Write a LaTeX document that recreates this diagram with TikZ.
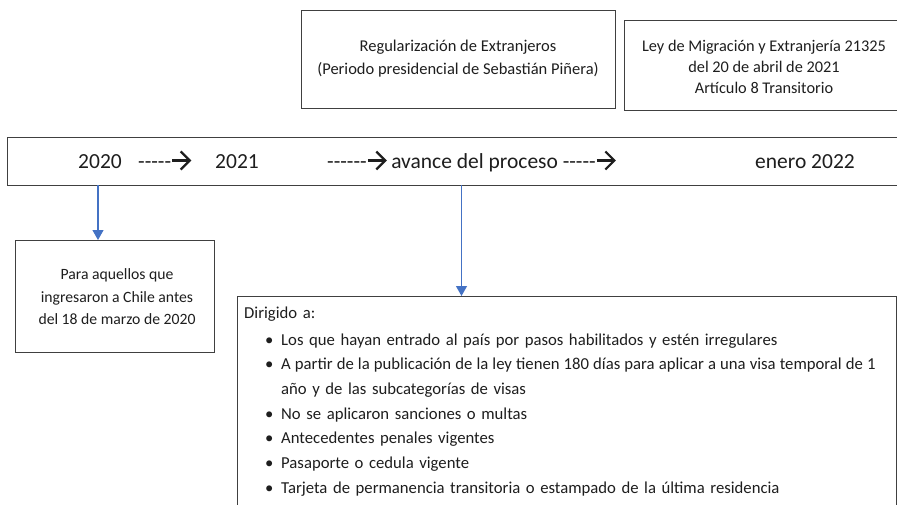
\documentclass[tikz,border=0pt]{standalone}
\usepackage{fontspec}
\setmainfont{Carlito}
\usetikzlibrary{arrows.meta}
\definecolor{boxline}{HTML}{404040}
\definecolor{txt}{HTML}{1E1E1E}
\definecolor{arrblue}{HTML}{4472C4}
\newcommand{\rarr}{\tikz[baseline=0pt, x=1pt, y=1pt, line width=2.2pt, line cap=butt, line join=miter]{\draw (0,7.5) -- (17,7.5); \draw (8.5,16.5) -- (17.5,7.5) -- (8.5,-1.5);}}
\newcommand{\dshfive}{-{}-{}-{}-{}-}
\newcommand{\dshsix}{-{}-{}-{}-{}-{}-}
\newcommand{\lbul}{\par\hangindent=37pt\hangafter=1\noindent\hbox to 37pt{\hspace{21pt}\textbullet\hfill}}
\begin{document}
\begin{tikzpicture}[x=1pt,y=-1pt,
  boxstyle/.style={draw=boxline, line width=1.1pt, inner sep=0pt, anchor=north west},
  txtstyle/.style={text=txt, align=center, inner sep=0pt},
  tlstyle/.style={text=txt, inner sep=0pt, anchor=base west, font=\fontsize{21.5}{21.5}\selectfont},
  conn/.style={draw=arrblue, line width=1.1pt, -{Triangle[width=11pt,length=10pt]}}]
\clip (0,0) rectangle (897,504);
\fill[white] (0,0) rectangle (897,504);

% top boxes
\node[boxstyle, minimum width=314pt, minimum height=98pt] (regbox) at (301,10) {};
\node[txtstyle, font=\fontsize{16.5}{23}\selectfont] (regtxt) at (458,59) {Regularización de Extranjeros\\(Periodo presidencial de Sebastián Piñera)};

\node[boxstyle, minimum width=300pt, minimum height=90pt] (leybox) at (624,20) {};
\node[txtstyle, font=\fontsize{16.3}{21}\selectfont] (leytxt) at (764,67) {Ley de Migración y Extranjería 21325\\del 20 de abril de 2021\\Artículo 8 Transitorio};

% timeline
\node[boxstyle, minimum width=910pt, minimum height=48pt] (tline) at (7,137) {};
\node[tlstyle] (y2020) at (78,168) {2020};
\node[tlstyle] (a1) at (138,168) {\dshfive\rarr};
\node[tlstyle] (y2021) at (215,168) {2021};
\node[tlstyle] (avance) at (327,168) {\dshsix\rarr{} avance del proceso \dshfive\rarr};
\node[tlstyle] (y2022) at (755,168) {enero 2022};

% lower boxes
\node[boxstyle, minimum width=199pt, minimum height=112pt] (chbox) at (15,240) {};
\node[txtstyle, font=\fontsize{15.7}{22.5}\selectfont] (chtxt) at (117,297) {Para aquellos que\\ingresaron a Chile antes\\del 18 de marzo de 2020};

\node[boxstyle, minimum width=659pt, minimum height=260pt] (dirbox) at (237,296) {};
\node[anchor=north west, inner sep=0pt, text=txt, text width=720pt, align=left,
      font=\fontsize{16.7}{24.7}\selectfont] (dirtxt) at (244,306.5) {%
\raggedright\noindent Dirigido a:\par\vspace{2pt}%
\lbul Los que hayan entrado al país por pasos habilitados y estén irregulares%
\lbul {\spaceskip=4.1pt plus 0.5pt\relax A partir de la publicación de la ley tienen 180 días para aplicar a una visa temporal de 1}\linebreak año y de las subcategorías de visas%
\lbul No se aplicaron sanciones o multas%
\lbul Antecedentes penales vigentes%
\lbul Pasaporte o cedula vigente%
\lbul Tarjeta de permanencia transitoria o estampado de la última residencia\par};

% connectors
\draw[conn] (98,185) -- (chbox.north -| 98,0);
\draw[conn] (461.5,185) -- (dirbox.north -| 461.5,0);
\end{tikzpicture}
\end{document}
